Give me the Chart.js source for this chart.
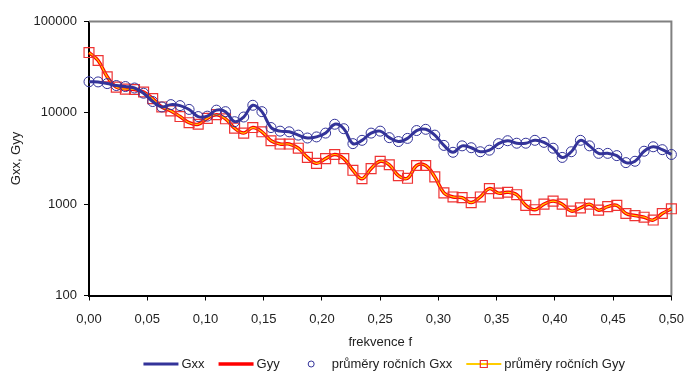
<!DOCTYPE html>
<html lang="cs">
<head>
<meta charset="UTF-8">
<title>Gxx, Gyy</title>
<script src="https://cdn.jsdelivr.net/npm/chart.js"></script>
<style>
  html, body { margin: 0; padding: 0; background: #fff; }
</style>
</head>
<body>
<canvas id="spectrum" width="686" height="372"></canvas>
<script>
// values, one per frequency step 1/128 (k = 0..64)
const gxx = [21900, 21800, 20900, 19900, 19400, 18700, 16400, 13300, 11600, 12300,
             12000, 10900, 9100, 9200, 10700, 10300, 8000, 9000, 12100, 10300,
             6900, 6300, 6200, 5700, 5300, 5450, 6000, 7500, 6700, 4600,
             5000, 6000, 6300, 5350, 4850, 5250, 6400, 6600, 5700, 4400,
             3700, 4350, 4150, 3750, 3900, 4600, 4950, 4650, 4650, 5000,
             4750, 4100, 3250, 3750, 5000, 4350, 3600, 3600, 3400, 2850,
             2950, 3800, 4250, 3950, 3500];
const gyy = [45700, 37400, 24800, 19100, 18200, 18000, 16900, 14300, 11600, 10500,
             9100, 7800, 7500, 8700, 9550, 8600, 6800, 6000, 6900, 6200,
             4950, 4550, 4550, 4100, 3250, 2800, 3150, 3500, 3150, 2350,
             1900, 2450, 2950, 2700, 2050, 1920, 2650, 2650, 1990, 1330,
             1200, 1180, 1040, 1200, 1480, 1320, 1350, 1270, 970, 870,
             1000, 1080, 1000, 840, 910, 1000, 860, 940, 970, 790,
             750, 720, 670, 790, 890];
const xTicks = [0, 0.05, 0.1, 0.15, 0.2, 0.25, 0.3, 0.35, 0.4, 0.45, 0.5];
const yTicks = [100, 1000, 10000, 100000];
const seriesNames = ['Gxx', 'Gyy', 'průměry ročních Gxx', 'průměry ročních Gyy'];

const freqs = gxx.map((_, k) => k / 128);
const toPoints = vals => vals.map((v, k) => ({ x: freqs[k], y: v }));

Chart.defaults.font.family = '"Liberation Sans", Arial, sans-serif';
Chart.defaults.font.size = 13;
Chart.defaults.color = '#222';

// gray frame on top and right of the plot area
const plotFrame = {
    id: 'plotFrame',
    beforeDatasetsDraw(chart) {
        const { ctx, chartArea: a } = chart;
        ctx.save();
        ctx.strokeStyle = '#808080';
        ctx.lineWidth = 2;
        ctx.beginPath();
        ctx.moveTo(a.left, a.top);
        ctx.lineTo(a.right, a.top);
        ctx.lineTo(a.right, a.bottom);
        ctx.stroke();
        ctx.restore();
    }
};

// excel-like legend row under the axis title
const bottomLegend = {
    id: 'bottomLegend',
    afterDraw(chart) {
        const { ctx, chartArea } = chart;
        const glyphW = 35, textGap = 3, itemGap = 14, y = 364;
        ctx.save();
        ctx.font = '13px "Liberation Sans", Arial, sans-serif';
        ctx.textBaseline = 'middle';
        ctx.textAlign = 'left';
        const items = chart.data.datasets.map(ds => ({ ds, w: ctx.measureText(ds.label).width }));
        const total = items.reduce((s, it) => s + glyphW + textGap + it.w, 0) + itemGap * (items.length - 1);
        let x = (chartArea.left + chartArea.right) / 2 - total / 2 + 4;
        items.forEach(({ ds, w }) => {
            const mid = x + glyphW / 2;
            if (ds.showLine !== false) {
                ctx.strokeStyle = ds.borderColor;
                ctx.lineWidth = ds.label === seriesNames[3] ? 2 : ds.borderWidth;
                ctx.beginPath();
                ctx.moveTo(x, y);
                ctx.lineTo(x + glyphW, y);
                ctx.stroke();
            }
            if (ds.pointRadius > 0) {
                ctx.strokeStyle = ds.pointBorderColor;
                ctx.lineWidth = ds.pointBorderWidth;
                ctx.beginPath();
                if (ds.pointStyle === 'rect') ctx.rect(mid - 3.5, y - 3.5, 7, 7);
                else ctx.arc(mid, y, 3, 0, Math.PI * 2);
                ctx.stroke();
            }
            ctx.fillStyle = '#222';
            ctx.fillText(ds.label, x + glyphW + textGap, y);
            x += glyphW + textGap + w + itemGap;
        });
        ctx.restore();
    }
};

const axisGrid = { drawOnChartArea: false, tickLength: 5, tickColor: '#000', tickWidth: 1 };
const axisBorder = { color: '#000', width: 2 };

new Chart(document.getElementById('spectrum'), {
    type: 'line',
    data: {
        datasets: [
            {
                label: seriesNames[0],
                data: toPoints(gxx),
                borderColor: '#333399',
                borderWidth: 3,
                pointRadius: 0,
                tension: 0.4,
                clip: false,
                order: 2
            },
            {
                label: seriesNames[1],
                data: toPoints(gyy),
                borderColor: '#ff0000',
                borderWidth: 3.5,
                pointRadius: 0,
                tension: 0.4,
                clip: false,
                order: 5
            },
            {
                label: seriesNames[2],
                data: toPoints(gxx),
                showLine: false,
                pointStyle: 'circle',
                pointRadius: 5,
                pointBorderColor: '#333399',
                pointBackgroundColor: 'rgba(0,0,0,0)',
                pointBorderWidth: 1,
                clip: false,
                order: 3
            },
            {
                label: seriesNames[3],
                data: toPoints(gyy),
                borderColor: '#ffcc00',
                borderWidth: 1.2,
                tension: 0.4,
                pointStyle: 'rect',
                pointRadius: 7,
                pointBorderColor: '#ee3333',
                pointBackgroundColor: 'rgba(0,0,0,0)',
                pointBorderWidth: 1.2,
                clip: false,
                order: 4
            }
        ]
    },
    options: {
        responsive: false,
        devicePixelRatio: 1,
        animation: false,
        layout: { padding: { top: 21.5, right: 14.6, bottom: 20, left: 0 } },
        plugins: {
            legend: { display: false },
            tooltip: { enabled: false }
        },
        scales: {
            x: {
                type: 'linear',
                min: 0,
                max: 0.5,
                afterBuildTicks: s => { s.ticks = xTicks.map(v => ({ value: v })); },
                ticks: {
                    callback: v => v.toFixed(2).replace('.', ','),
                    padding: 11,
                    maxRotation: 0,
                    autoSkip: false
                },
                grid: axisGrid,
                border: axisBorder,
                title: { display: true, text: 'frekvence f', padding: { top: 0, bottom: 2 } },
                afterFit: s => {
                    s.height = 56.5;
                    s.paddingLeft = 0;
                    s.paddingRight = 0;
                }
            },
            y: {
                type: 'logarithmic',
                min: 100,
                max: 100000,
                afterBuildTicks: s => { s.ticks = yTicks.map(v => ({ value: v })); },
                ticks: {
                    callback: v => String(v),
                    padding: 7
                },
                grid: axisGrid,
                border: axisBorder,
                title: { display: true, text: 'Gxx, Gyy', padding: { top: 9, bottom: 0 } },
                afterFit: s => { s.width = 89; }
            }
        }
    },
    plugins: [plotFrame, bottomLegend]
});
</script>
</body>
</html>
